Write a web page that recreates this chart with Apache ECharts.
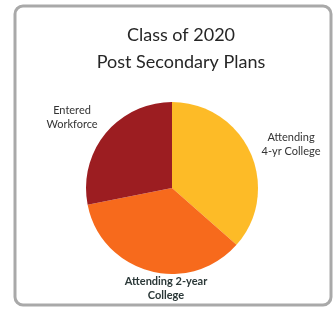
<!DOCTYPE html>
<html>
<head>
<meta charset="utf-8">
<script src="https://cdn.jsdelivr.net/npm/echarts@6/dist/echarts.min.js"></script>
<style>
html, body { margin: 0; padding: 0; background: #fff; }
#chart { width: 333px; height: 311px; }
</style>
</head>
<body>
<div id="chart"></div>
<script>
// data (share of class, %)
var categories = ['Attending\n4-yr College', 'Attending 2-year\nCollege', 'Entered\nWorkforce'];
var shares = [36.5, 35.4, 28.1];
var colors = ['#FDBB27', '#F76A1C', '#9C1D21'];

// where each label sits (centre of text block)
var labelSpots = [[291, 144], [166, 288], [72, 117]];

var chartDom = document.getElementById('chart');
var myChart = echarts.init(chartDom);// init

var pieData = categories.map(function (name, i) {
    return {
        name: name,
        value: shares[i],
        itemStyle: { color: colors[i] },
        label: i === 1 ? { fontWeight: 'bold', color: '#2b3838' } : {}
    };
});

var option = {
    backgroundColor: '#fff',
    animation: false,
    title: {
        text: 'Class of 2020\nPost Secondary Plans',
        left: 176,
        top: 17,
        textAlign: 'center',
        textStyle: {
            fontFamily: 'Lato',
            fontWeight: 'normal',
            fontSize: 18,
            lineHeight: 27,
            color: '#262626'
        }
    },
    graphic: [{
        type: 'rect',
        shape: { x: 15, y: 6, width: 316, height: 299, r: 8 },
        style: { fill: 'none', stroke: '#a9a9a9', lineWidth: 3 },
        z: 10
    }],
    series: [{
        type: 'pie',
        center: [172, 188],
        radius: 86,
        startAngle: 90,
        clockwise: true,
        data: pieData,
        label: {
            show: true,
            position: 'outside',
            fontFamily: 'Lato',
            fontSize: 11,
            lineHeight: 14,
            color: '#333',
            align: 'center',
            overflow: 'none',
            width: 120
        },
        labelLine: { show: false },
        labelLayout: function (params) {
            var p = labelSpots[params.dataIndex];
            return { x: p[0], y: p[1], align: 'center', verticalAlign: 'middle' };
        },
        emphasis: { disabled: true }
    }]
};

myChart.setOption(option);

window.onresize = function () {
    myChart.resize();
};
</script>
</body>
</html>
